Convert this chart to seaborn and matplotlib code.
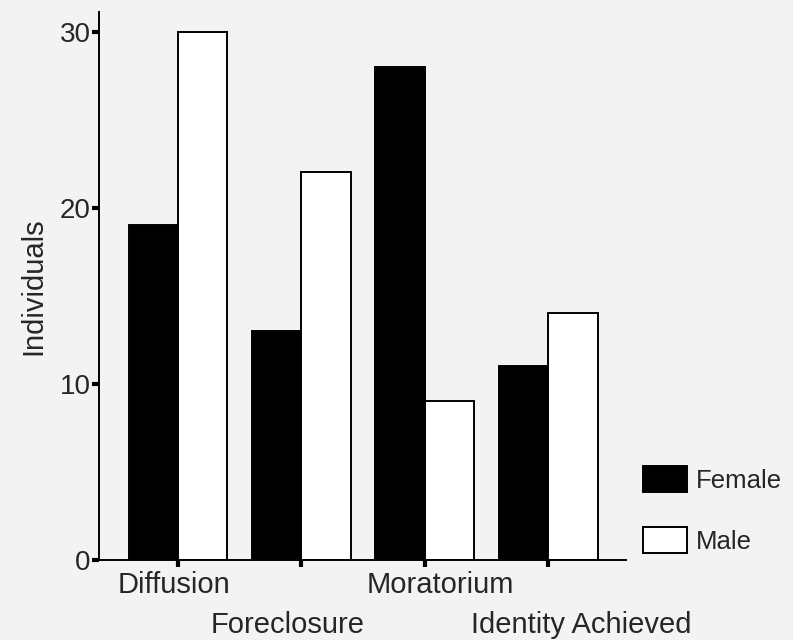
import pandas as pd
import seaborn as sns
from matplotlib import pyplot as plt

statuses = ["Diffusion", "Foreclosure", "Moratorium", "Identity Achieved"]
female = [19, 13, 28, 11]
male = [30, 22, 9, 14]
y_ticks = [0, 10, 20, 30]

BG = "#f3f3f3"


def main():
    df = pd.DataFrame({
        "Status": statuses * 2,
        "Individuals": female + male,
        "Sex": ["Female"] * len(statuses) + ["Male"] * len(statuses),
    })

    sns.set_style("ticks")
    plt.rcParams["font.family"] = ["Liberation Sans", "DejaVu Sans"]

    fig = plt.figure(figsize=(7.93, 6.4), dpi=100, facecolor=BG)
    ax = fig.add_axes([0.1248, 0.125, 0.6646, 0.856])
    ax.set_facecolor(BG)

    sns.barplot(df, x="Status", y="Individuals", hue="Sex", order=statuses,
                hue_order=["Female", "Male"], palette=["black", "white"],
                edgecolor="black", linewidth=1.4, width=0.8, saturation=1,
                ax=ax)

    ax.set_xlim(-0.64, 3.63)
    ax.set_ylim(0, 31.1)
    ax.set_yticks(y_ticks)
    ax.set_yticklabels([str(t) for t in y_ticks], fontsize=20)
    ax.set_xticks(range(len(statuses)))
    ax.set_xticklabels([])
    # staggered category labels, a little off their ticks as in the original
    shifts = [(-4, -25), (-14, -65), (16, -25), (33, -65)]
    for i, (name, (dx, dy)) in enumerate(zip(statuses, shifts)):
        ax.annotate(name, xy=(i, 0), xycoords=("data", "axes fraction"),
                    xytext=(dx, dy), textcoords="offset pixels",
                    ha="center", va="center", fontsize=21)
    ax.tick_params(axis="y", length=5, width=3, pad=1, color="black")
    ax.tick_params(axis="x", length=5, width=3, color="black")
    ax.set_xlabel("")
    ax.set_ylabel("Individuals", fontsize=21, labelpad=9)
    for side in ["top", "right"]:
        ax.spines[side].set_visible(False)
    for side in ["left", "bottom"]:
        ax.spines[side].set_linewidth(1.4)
        ax.spines[side].set_color("black")

    ax.legend(loc="center left", bbox_to_anchor=(643 / 793, 1 - 510 / 640),
              bbox_transform=fig.transFigure, frameon=False, fontsize=18.5,
              handlelength=1.7, handleheight=1.15, labelspacing=1.35,
              handletextpad=0.35, borderpad=0, borderaxespad=0)

    plt.savefig("out.png", dpi=100, facecolor=BG)
    plt.close()


if __name__ == '__main__':
    main()
